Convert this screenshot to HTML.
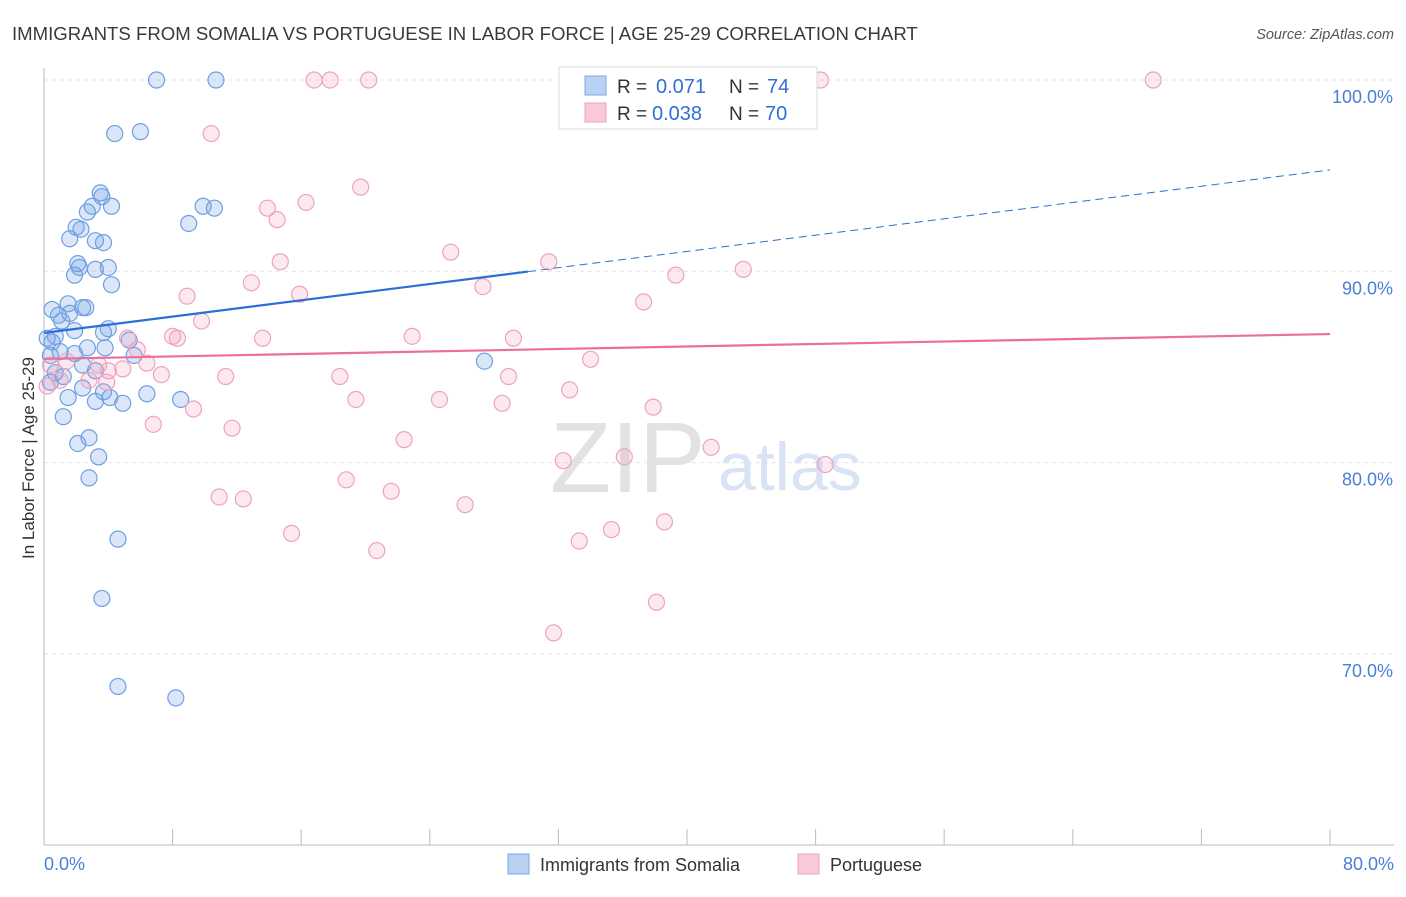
<!DOCTYPE html>
<html><head><meta charset="utf-8"><style>
body{margin:0;background:#fff;font-family:"Liberation Sans",sans-serif}
svg text{font-family:"Liberation Sans",sans-serif}
</style></head><body>
<svg id="chart" width="1406" height="892" xmlns="http://www.w3.org/2000/svg">
<text x="12" y="40" font-size="18.6" fill="#3a3a3a">IMMIGRANTS FROM SOMALIA VS PORTUGUESE IN LABOR FORCE | AGE 25-29 CORRELATION CHART</text>
<text x="1394" y="39" font-size="14.5" fill="#555" text-anchor="end" font-style="italic">Source: ZipAtlas.com</text>
<g id="grid"></g>
<text x="550" y="492" font-size="100" fill="#e2e2e2" font-family="Liberation Serif">ZIP</text>
<text x="718" y="490" font-size="68" fill="#d8e4f4">atlas</text>
<g id="marks"></g>
<text transform="translate(34,458) rotate(-90)" font-size="17" fill="#333" text-anchor="middle">In Labor Force | Age 25-29</text>
<text x="44" y="870" font-size="18" fill="#4a7fd6">0.0%</text>
<text x="1394" y="870" font-size="18" fill="#4a7fd6" text-anchor="end">80.0%</text>
<g>
<rect x="559" y="67" width="258" height="62" fill="#fff" stroke="#ddd"/>
<rect x="585" y="76" width="21" height="19" fill="#b9d2f4" stroke="#7ea6e3"/>
<rect x="585" y="103" width="21" height="19" fill="#f9c9d8" stroke="#eea3bd"/>
<text x="617" y="93" font-size="19" fill="#333">R =</text>
<text x="656" y="93" font-size="20" fill="#2f6fd6">0.071</text>
<text x="729" y="93" font-size="19" fill="#333">N =</text>
<text x="767" y="93" font-size="20" fill="#2f6fd6">74</text>
<text x="617" y="120" font-size="19" fill="#333">R =</text>
<text x="652" y="120" font-size="20" fill="#2f6fd6">0.038</text>
<text x="729" y="120" font-size="19" fill="#333">N =</text>
<text x="765" y="120" font-size="20" fill="#2f6fd6">70</text>
</g>
<g>
<rect x="508" y="854" width="21" height="20" fill="#b9d2f4" stroke="#7ea6e3"/>
<text x="540" y="871" font-size="18" fill="#333">Immigrants from Somalia</text>
<rect x="798" y="854" width="21" height="20" fill="#f9c9d8" stroke="#eea3bd"/>
<text x="830" y="871" font-size="18" fill="#333">Portuguese</text>
</g>
</svg>
<script>
const yTicks=[100,90,80,70];
const yTickLabels=["100.0%","90.0%","80.0%","70.0%"];
const somaliaX=[7.0,10.7,4.4,6.0,3.5,3.6,3.0,2.7,4.2,9.9,10.6,9.0,2.0,2.3,1.6,3.2,3.7,2.1,2.2,3.2,4.0,1.9,4.2,1.5,0.5,2.4,2.6,1.6,0.9,1.1,4.0,1.9,3.7,0.2,0.7,0.5,5.3,2.7,3.8,1.0,1.9,0.4,5.6,27.4,2.4,3.2,0.7,1.2,0.4,2.4,3.7,4.1,6.4,1.5,3.2,4.9,8.5,1.2,2.8,2.1,3.4,2.8,4.6,3.6,4.6,8.2];
const somaliaY=[100,100,97.2,97.3,94.1,93.9,93.4,93.1,93.4,93.4,93.3,92.5,92.3,92.2,91.7,91.6,91.5,90.4,90.2,90.1,90.2,89.8,89.3,88.3,88.0,88.1,88.1,87.8,87.7,87.4,87.0,86.9,86.8,86.5,86.6,86.3,86.4,86.0,86.0,85.8,85.7,85.6,85.6,85.3,85.1,84.8,84.7,84.5,84.2,83.9,83.7,83.4,83.6,83.4,83.2,83.1,83.3,82.4,81.3,81.0,80.3,79.2,76.0,72.9,68.3,67.7];
const portX=[16.8,17.8,20.2,48.3,69.0,10.4,19.7,16.3,13.9,14.5,25.3,31.4,14.7,43.5,39.3,12.9,27.3,8.9,15.9,37.3,9.8,8.0,8.3,13.6,22.9,29.2,5.2,5.8,34.0,6.4,3.4,1.4,0.4,4.0,4.9,7.3,11.3,18.4,28.9,1.0,2.8,3.9,0.2,32.7,19.4,24.6,28.5,37.9,9.3,6.8,11.7,22.4,41.5,36.1,32.3,48.6,18.8,21.6,10.9,12.4,26.2,38.6,35.3,15.4,33.3,20.7,38.1,31.7];
const portY=[100,100,100,100,100,97.2,94.4,93.6,93.3,92.7,91.0,90.5,90.5,90.1,89.8,89.4,89.2,88.7,88.8,88.4,87.4,86.6,86.5,86.5,86.6,86.5,86.5,85.9,85.4,85.2,85.1,85.3,85.1,84.8,84.9,84.6,84.5,84.5,84.5,84.3,84.3,84.2,84.0,83.8,83.3,83.3,83.1,82.9,82.8,82.0,81.8,81.2,80.8,80.3,80.1,79.9,79.1,78.5,78.2,78.1,77.8,76.9,76.5,76.3,75.9,75.4,72.7,71.1];
const somaliaTrend=[86.78,95.3];
const portTrend=[85.42,86.72];
const xAx=v=>44+v/80*1286;
const yAx=v=>80+(100-v)*19.13;
const NS="http://www.w3.org/2000/svg";
function mk(tag,attrs,parent){const e=document.createElementNS(NS,tag);for(const k in attrs)e.setAttribute(k,attrs[k]);parent.appendChild(e);return e;}
const grid=document.getElementById('grid'),marks=document.getElementById('marks');
yTicks.forEach((t,i)=>{
 const l=mk('line',{x1:44,x2:1394,y1:yAx(t),y2:yAx(t),stroke:'#e4e4e4','stroke-dasharray':'4,4'},grid);
 
 
 const tx=mk('text',{x:1393,y:yAx(t)+23,'font-size':18,fill:'#4a7fd6','text-anchor':'end'},grid);
 tx.textContent=yTickLabels[i];
 
 
});
const ax=mk('line',{x1:44,x2:44,y1:68,y2:845,stroke:'#bbb'},grid);


const bx=mk('line',{x1:44,x2:1394,y1:845,y2:845,stroke:'#bbb'},grid);


for(let i=1;i<=10;i++){
 const t=mk('line',{x1:xAx(i*8),x2:xAx(i*8),y1:829,y2:845,stroke:'#bbb'},grid);
 
 
}
somaliaX.forEach((x,i)=>{
 const c=mk('circle',{cx:xAx(x),cy:yAx(somaliaY[i]),r:8,fill:'rgba(110,160,230,0.25)',stroke:'#6e9fe2','stroke-width':1.2},marks);
 
 
});
portX.forEach((x,i)=>{
 const c=mk('circle',{cx:xAx(x),cy:yAx(portY[i]),r:8,fill:'rgba(240,150,180,0.22)',stroke:'#eea3bd','stroke-width':1.2},marks);
 
 
});
const ty=x=>somaliaTrend[0]+(somaliaTrend[1]-somaliaTrend[0])*x/80;
const s1=mk('line',{x1:xAx(0),y1:yAx(ty(0)),x2:xAx(30.1),y2:yAx(ty(30.1)),stroke:'#2a6fd6','stroke-width':2.2},marks);


const s2=mk('line',{x1:xAx(30.1),y1:yAx(ty(30.1)),x2:xAx(80),y2:yAx(ty(80)),stroke:'#2a6fd6','stroke-width':1,'stroke-dasharray':'8,5'},marks);


const p1=mk('line',{x1:xAx(0),y1:yAx(portTrend[0]),x2:xAx(80),y2:yAx(portTrend[1]),stroke:'#e8709a','stroke-width':2.2},marks);


</script>
</body></html>
